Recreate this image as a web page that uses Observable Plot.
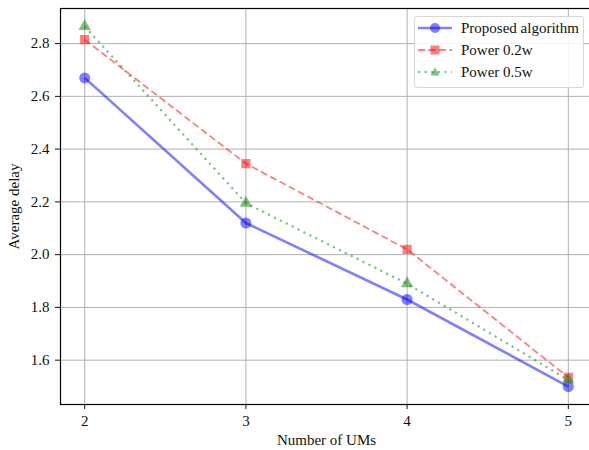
<!DOCTYPE html>
<html>
<head>
<meta charset="utf-8">
<script src="https://cdn.jsdelivr.net/npm/d3@7"></script>
<script src="https://cdn.jsdelivr.net/npm/@observablehq/plot@0.6"></script>
<style>
  html, body { margin: 0; padding: 0; background: #fff; overflow: hidden; }
  #chart { position: relative; width: 589px; height: 450px; }
  .legend {
    position: absolute; left: 414px; top: 16px; width: 170px; height: 72px;
    box-sizing: border-box; border: 1px solid #d6d6d6; border-radius: 3px;
    background: rgba(255,255,255,0.85);
    font-family: "Liberation Serif", "Times New Roman", serif; font-size: 15px; color: #111;
  }
  .legend .row { position: absolute; left: 3px; height: 20px; display: flex; align-items: center; }
  .legend .row span { margin-left: 9px; }
</style>
</head>
<body>
<div id="chart"></div>
<script>
// Number of UMs on the x axis
const ums = [2, 3, 4, 5];
// Average delay for each scheme
const proposed = [2.67, 2.12, 1.83, 1.50];
const power02 = [2.815, 2.345, 2.02, 1.535];
const power05 = [2.865, 2.195, 1.89, 1.525];
const seriesNames = ["Proposed algorithm", "Power 0.2w", "Power 0.5w"];
const yTicks = [1.6, 1.8, 2.0, 2.2, 2.4, 2.6, 2.8];

const serif = "'Liberation Serif', 'Times New Roman', serif";

const styles = [
  {color: "#0000ff", symbol: "circle", width: 2.6, dash: null, r: 5.5},
  {color: "#ff0000", symbol: "square", width: 1.8, dash: "7,3.5", r: 5.2},
  {color: "#008000", symbol: "triangle", width: 2.2, dash: "2.2,4.4", r: 4.6}
];

const values = [proposed, power02, power05];
const rows = seriesNames.flatMap((name, i) =>
  ums.map((u, j) => ({series: name, idx: i, x: u, y: values[i][j]})));

const lineMarks = seriesNames.flatMap((name, i) => {
  const d = rows.filter(r => r.idx === i);
  const s = styles[i];
  return [
    Plot.line(d, {x: "x", y: "y", stroke: s.color, strokeOpacity: 0.5,
      strokeWidth: s.width, strokeDasharray: s.dash, strokeLinecap: "butt"}),
    Plot.dot(d, {x: "x", y: "y", symbol: () => s.symbol, fill: s.color,
      fillOpacity: 0.5, stroke: "none", r: s.r})
  ];
});

const chart = Plot.plot({
  width: 589,
  height: 450,
  marginLeft: 60,
  marginTop: 8,
  marginBottom: 46,
  marginRight: -3,
  style: {fontFamily: serif, fontSize: "15px", color: "#111", background: "#fff"},
  symbol: {type: "identity"},
  x: {domain: [1.85, 5.15]},
  y: {domain: [1.432, 2.933]},
  marks: [
    Plot.gridX(ums, {stroke: "#b0b0b0", strokeOpacity: 1, strokeWidth: 1}),
    Plot.gridY(yTicks, {stroke: "#b0b0b0", strokeOpacity: 1, strokeWidth: 1}),
    ...lineMarks,
    Plot.frame({stroke: "#000", strokeWidth: 1.2}),
    Plot.axisX(ums, {tickSize: 5, tickPadding: 6, fontSize: 15, label: "Number of UMs",
      labelAnchor: "center", labelArrow: "none", labelOffset: 40, tickFormat: d => String(d)}),
    Plot.axisY(yTicks, {tickSize: 5, tickPadding: 6, fontSize: 15, label: "Average delay",
      labelAnchor: "center", labelArrow: "none", labelOffset: 52, tickFormat: d3.format(".1f")})
  ]
});

const host = document.getElementById("chart");
host.appendChild(chart);

// Legend box in the upper right of the plot area
const legend = document.createElement("div");
legend.className = "legend";
seriesNames.forEach((name, i) => {
  const s = styles[i];
  const row = document.createElement("div");
  row.className = "row";
  row.style.top = (1 + i * 22) + "px";
  const sym = s.symbol === "circle"
    ? `<circle cx="17" cy="10" r="5" fill="${s.color}" fill-opacity="0.5"/>`
    : s.symbol === "square"
    ? `<rect x="12.5" y="5.5" width="9" height="9" fill="${s.color}" fill-opacity="0.5"/>`
    : `<path d="M17,5.5 L21.5,13.5 L12.5,13.5 Z" fill="${s.color}" fill-opacity="0.5"/>`;
  row.innerHTML = `<svg width="34" height="20"><line x1="0" x2="34" y1="10" y2="10" stroke="${s.color}" stroke-opacity="0.5" stroke-width="${s.width}" ${s.dash ? `stroke-dasharray="${s.dash}"` : ""}/>${sym}</svg><span>${name}</span>`;
  legend.appendChild(row);
});
host.appendChild(legend);
</script>
</body>
</html>
